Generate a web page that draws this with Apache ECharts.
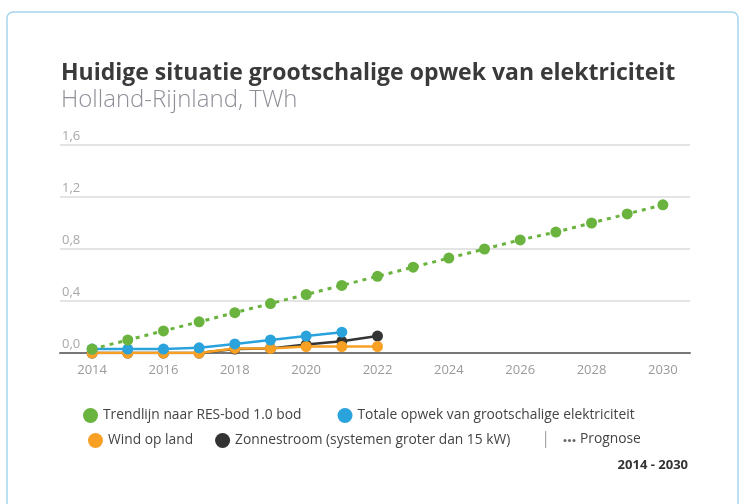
<!DOCTYPE html>
<html>
<head>
<meta charset="utf-8">
<script src="https://cdn.jsdelivr.net/npm/echarts@6/dist/echarts.min.js"></script>
<style>html,body{margin:0;padding:0;background:#fff}#c{width:744px;height:504px}</style>
</head>
<body>
<div id="c"></div>
<script>
const years = [2014,2015,2016,2017,2018,2019,2020,2021,2022,2023,2024,2025,2026,2027,2028,2029,2030];
const xTicks = [2014,2016,2018,2020,2022,2024,2026,2028,2030];
const yTicks = [0,0.4,0.8,1.2,1.6];
const trend = [0.03,0.10,0.17,0.24,0.31,0.38,0.45,0.52,0.59,0.66,0.73,0.80,0.87,0.93,1.00,1.07,1.14];
const totaal = [0.03,0.03,0.03,0.04,0.07,0.10,0.13,0.16];
const wind = [0.00,0.00,0.00,0.00,0.035,0.035,0.05,0.05,0.05];
const zon = [0.00,0.00,0.00,0.00,0.03,0.035,0.065,0.09,0.13];
const names = ['Trendlijn naar RES-bod 1.0 bod','Totale opwek van grootschalige elektriciteit','Wind op land','Zonnestroom (systemen groter dan 15 kW)'];

const FONT = 'Open Sans';
const pair = arr => arr.map((v,i)=>[years[i], v]);
const chart = echarts.init(document.getElementById('c'));
chart.setOption({
  animation:false,
  textStyle:{fontFamily:FONT},
  title:[
    {text:'Huidige situatie grootschalige opwek van elektriciteit', left:56, top:57,
     textStyle:{fontFamily:FONT, fontSize:23, fontWeight:'bold', color:'#3a3a3a'}},
    {text:'Holland-Rijnland, TWh', left:56, top:83,
     textStyle:{fontFamily:FONT, fontSize:24, fontWeight:300, color:'#8f8f98'}}
  ],
  grid:{left:60, right:54, top:145, bottom:151},
  xAxis:{type:'value', min:2013.1, max:2030.76,
    axisLine:{show:true, lineStyle:{color:'#777', width:2}},
    axisTick:{show:false}, splitLine:{show:false},
    axisLabel:{customValues:xTicks, color:'#9a9a9a', fontSize:13, margin:11, formatter:v=>String(Math.round(v))}
  },
  yAxis:{type:'value', min:0, max:1.6, interval:0.4,
    axisLine:{show:false}, axisTick:{show:false},
    splitLine:{lineStyle:{color:'#e4e4e4', width:2}},
    axisLabel:{inside:true, margin:2, verticalAlign:'bottom', padding:[0,0,2,0], color:'#a8a8a8', fontSize:13,
      formatter:v=>v.toFixed(1).replace('.',',')}
  },
  legend:[
    {data:[names[0],names[1]], left:78, top:403, icon:'circle', itemWidth:15, itemHeight:15, itemGap:36, itemStyle:{borderWidth:0},
     textStyle:{fontFamily:FONT, fontSize:13.8, color:'#444'}, selectedMode:false},
    {data:[names[2],names[3]], left:83, top:428, icon:'circle', itemWidth:15, itemHeight:15, itemGap:22, itemStyle:{borderWidth:0},
     textStyle:{fontFamily:FONT, fontSize:13.8, color:'#444'}, selectedMode:false}
  ],
  graphic:[
    {type:'rect', shape:{x:7, y:12, width:731, height:510, r:6}, style:{fill:'none', stroke:'#a6d6ee', lineWidth:1.5}, z:-1},
    {type:'rect', shape:{x:545, y:431, width:1.2, height:17}, style:{fill:'#aaa'}},
    {type:'circle', shape:{cx:565, cy:440.5, r:1.5}, style:{fill:'#666'}},
    {type:'circle', shape:{cx:569.5, cy:440.5, r:1.5}, style:{fill:'#666'}},
    {type:'circle', shape:{cx:574, cy:440.5, r:1.5}, style:{fill:'#666'}},
    {type:'text', left:580, top:432, style:{text:'Prognose', fontFamily:FONT, fontSize:13.8, fill:'#444'}},
    {type:'text', right:56, top:459, style:{text:'2014 - 2030', fontFamily:FONT, fontSize:13, fontWeight:'bold', fill:'#333'}}
  ],
  series:[
    {name:names[3], type:'line', data:pair(zon), symbol:'circle', symbolSize:11, z:2,
     itemStyle:{color:'#333333'}, lineStyle:{color:'#333333', width:2.5}},
    {name:names[2], type:'line', data:pair(wind), symbol:'circle', symbolSize:11, z:3,
     itemStyle:{color:'#f7a023'}, lineStyle:{color:'#f7a023', width:2.5}},
    {name:names[1], type:'line', data:pair(totaal), symbol:'circle', symbolSize:11, z:4,
     itemStyle:{color:'#2aa3dd'}, lineStyle:{color:'#2aa3dd', width:2.5}},
    {name:names[0], type:'line', data:pair(trend), symbol:'circle', symbolSize:11, z:5,
     itemStyle:{color:'#6ab33f'}, lineStyle:{color:'#6ab33f', width:3, type:[4,5]}}
  ]
});
</script>
</body>
</html>
